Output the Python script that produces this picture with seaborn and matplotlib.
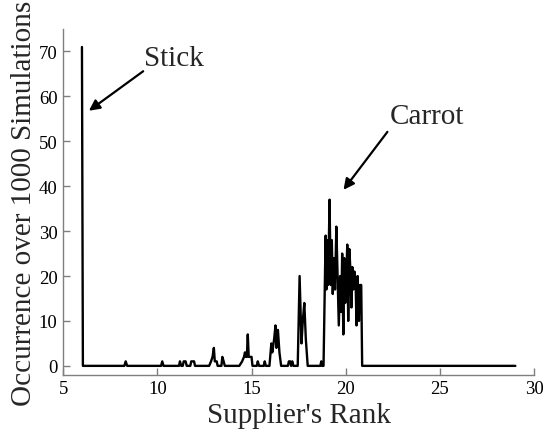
import matplotlib
matplotlib.use("Agg")
import matplotlib.pyplot as plt
import pandas as pd
import seaborn as sns

# supplier rank (x) and occurrences over 1000 runs (y)
rank = [6.0, 6.05, 8.25, 8.32, 8.4, 10.2, 10.26, 10.33, 11.15, 11.2, 11.27,
        11.35, 11.4, 11.5, 11.56, 11.75, 11.8, 11.9, 11.95, 12.0, 12.75,
        12.85, 12.93, 13.0, 13.05, 13.15, 13.2, 13.4, 13.45, 13.52, 13.58,
        14.35, 14.5, 14.6, 14.65, 14.7, 14.75, 14.8, 14.85, 15.0, 15.05,
        15.28, 15.33, 15.4, 15.65, 15.7, 15.76, 15.95, 16.05, 16.1, 16.2,
        16.27, 16.32, 16.4, 16.48, 16.57, 16.93, 16.98, 17.05, 17.1, 17.16,
        17.22, 17.45, 17.55, 17.65, 17.72, 17.8, 17.88, 17.98, 18.65, 18.7,
        18.75, 18.82, 18.93, 18.97, 19.0, 19.02, 19.06, 19.1, 19.14, 19.2,
        19.23, 19.26, 19.31, 19.37, 19.43, 19.5, 19.56, 19.63, 19.7, 19.76,
        19.81, 19.87, 19.92, 19.97, 20.03, 20.08, 20.13, 20.19, 20.25, 20.3,
        20.35, 20.4, 20.46, 20.52, 20.57, 20.63, 20.7, 20.75, 20.82, 20.87,
        29.0]
occurrence = [71, 0, 0, 1, 0, 0, 1, 0, 0, 1, 0,
              0, 1, 1, 0, 0, 1, 1, 1, 0, 0,
              1, 2, 4, 1, 1, 0, 0, 2, 1, 0,
              0, 1, 2, 3, 2, 2, 7, 2, 2, 0,
              0, 1, 0, 0, 1, 0, 0, 5, 3, 6,
              9, 4, 8, 3, 0, 0, 1, 1, 0, 1,
              0, 0, 20, 5, 10, 14, 6, 0, 0, 1,
              0, 0, 29, 17, 28, 25, 18, 27, 37, 18,
              24, 28, 16, 24, 17, 31, 21, 9, 20, 12,
              25, 7, 24, 14, 20, 27, 10, 26, 21, 13,
              22, 17, 21, 19, 9, 20, 10, 18, 18, 0,
              0]

x_ticks = [5, 10, 15, 20, 25, 30]
y_ticks = [0, 10, 20, 30, 40, 50, 60, 70]

df = pd.DataFrame({"rank": rank, "occurrence": occurrence})

sns.set_style("white")
plt.rcParams["font.family"] = ["Liberation Serif", "DejaVu Serif"]

fig = plt.figure(figsize=(5.44, 4.35), dpi=100)
ax = fig.add_axes([0.116, 0.136, 0.866, 0.795])

sns.lineplot(data=df, x="rank", y="occurrence", ax=ax, color="black",
             linewidth=1.7, estimator=None, sort=False)

ax.set_xlim(5, 30)
ax.set_ylim(-2, 75)
ax.set_xticks(x_ticks)
ax.set_yticks(y_ticks)
ax.set_xlabel("Supplier's Rank", fontsize=21, labelpad=3)
ax.set_ylabel("Occurrence over 1000 Simulations", fontsize=21, labelpad=1)

for side in ["top", "right"]:
    ax.spines[side].set_visible(False)
for side in ["left", "bottom"]:
    ax.spines[side].set_color("#7f7f7f")
    ax.spines[side].set_linewidth(1.0)
ax.tick_params(direction="in", length=5, width=1, color="#7f7f7f",
               labelsize=13.5, labelcolor="black", pad=4,
               left=True, bottom=True)

# annotations
ax.text(9.27, 67, "Stick", fontsize=21, ha="left", va="baseline")
ax.annotate("", xy=(6.37, 56.8), xytext=(9.25, 65.6),
            arrowprops=dict(arrowstyle="-|>", color="black", lw=1.6,
                            mutation_scale=16, shrinkA=0, shrinkB=0))
ax.text(22.32, 54.1, "Carrot", fontsize=21, ha="left", va="baseline")
ax.annotate("", xy=(19.88, 39.2), xytext=(22.21, 52.1),
            arrowprops=dict(arrowstyle="-|>", color="black", lw=1.6,
                            mutation_scale=16, shrinkA=0, shrinkB=0))

fig.savefig("out.png", dpi=100)
